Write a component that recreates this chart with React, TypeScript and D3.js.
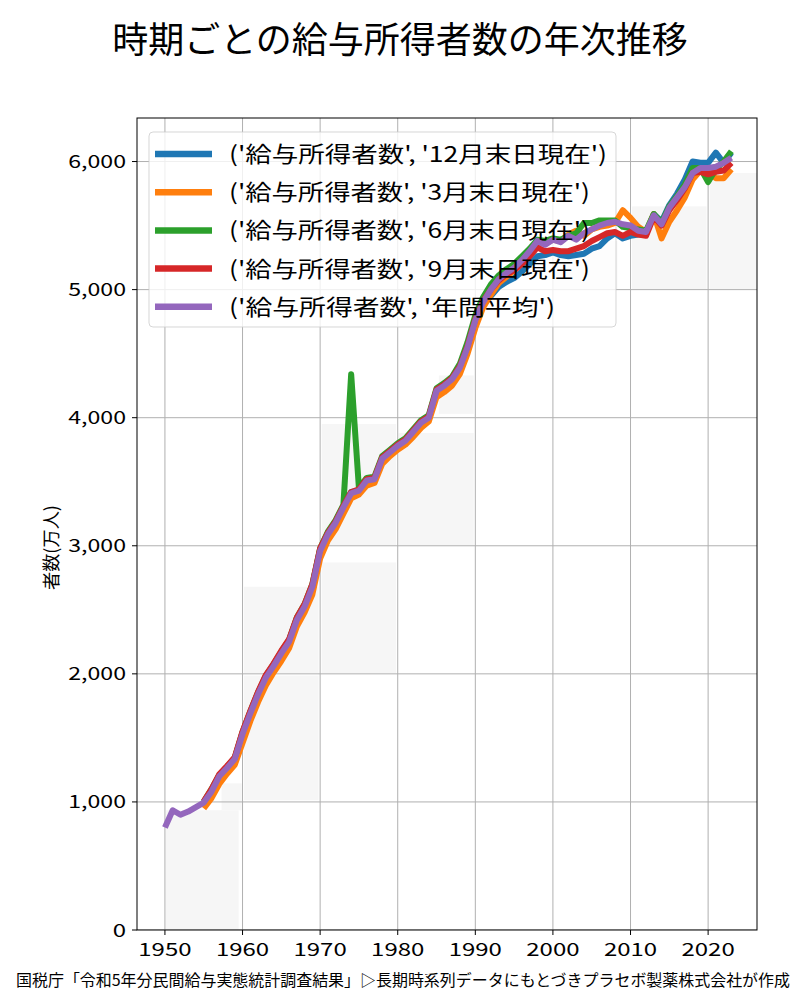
import {useMemo} from 'react'
import * as d3 from 'd3'

const WIDTH = 800
const HEIGHT = 1000
const PLOT = {left: 137, right: 757, top: 118, bottom: 930}
const FONT = '"Noto Sans CJK JP", "Noto Sans", sans-serif'

// 年間平均 1950-2023
const avgYears = d3.range(1950, 2024)
const avgValues = [
  800, 935, 900, 925, 960, 995, 1080, 1200, 1265, 1335,
  1530, 1690, 1840, 1970, 2060, 2160, 2250, 2420, 2525, 2680,
  2960, 3090, 3180, 3300, 3410, 3430, 3510, 3520, 3680, 3730,
  3780, 3820, 3890, 3960, 4000, 4210, 4250, 4300, 4390, 4550,
  4760, 4900, 5000, 5080, 5130, 5170, 5230, 5300, 5380, 5350,
  5390, 5370, 5420, 5390, 5440, 5470, 5500, 5520, 5530, 5510,
  5500, 5460, 5450, 5580, 5510, 5640, 5720, 5800, 5910, 5950,
  5950, 5960, 5990, 6030,
]

// 各月末現在 1955-2023
const pointYears = d3.range(1955, 2024)
const decValues = [
  1000, 1090, 1205, 1270, 1340,
  1540, 1700, 1850, 1980, 2070, 2170, 2260, 2430, 2535, 2690,
  2970, 3100, 3190, 3310, 3420, 3430, 3510, 3520, 3680, 3730,
  3780, 3820, 3890, 3960, 4000, 4210, 4250, 4300, 4390, 4550,
  4750, 4880, 4950, 5020, 5060, 5090, 5140, 5200, 5260, 5270,
  5290, 5270, 5260, 5270, 5280, 5320, 5340, 5400, 5440, 5400,
  5420, 5430, 5430, 5590, 5530, 5660, 5750, 5860, 6000, 5990,
  5990, 6070, 5990, 6070,
]
const marValues = [
  950, 1030, 1140, 1220, 1290,
  1460, 1630, 1780, 1910, 2010, 2100, 2200, 2370, 2480, 2620,
  2900, 3040, 3130, 3250, 3370, 3400, 3470, 3490, 3640, 3700,
  3750, 3790, 3850, 3920, 3970, 4160, 4200, 4250, 4340, 4500,
  4700, 4860, 4960, 5050, 5100, 5150, 5210, 5280, 5370, 5360,
  5390, 5380, 5430, 5460, 5420, 5470, 5490, 5500, 5520, 5620,
  5560, 5490, 5450, 5590, 5400, 5530, 5620, 5720, 5860, 5930,
  5920, 5870, 5870, 5940,
]
const junValues = [
  1000, 1100, 1210, 1275, 1345,
  1545, 1705, 1855, 1985, 2075, 2175, 2265, 2440, 2545, 2700,
  2980, 3110, 3200, 3320, 4340, 3450, 3530, 3540, 3700, 3750,
  3800, 3840, 3910, 3980, 4020, 4230, 4270, 4320, 4420, 4590,
  4800, 4940, 5040, 5110, 5160, 5200, 5260, 5320, 5390, 5380,
  5400, 5390, 5420, 5440, 5520, 5520, 5540, 5540, 5540, 5490,
  5480, 5470, 5460, 5590, 5520, 5650, 5730, 5820, 5950, 5950,
  5840, 5940, 6000, 6080,
]
const sepValues = [
  1005, 1100, 1215, 1280, 1350,
  1550, 1710, 1860, 1990, 2080, 2180, 2270, 2440, 2545, 2700,
  2980, 3100, 3190, 3310, 3420, 3440, 3520, 3530, 3690, 3740,
  3790, 3830, 3900, 3970, 4010, 4220, 4260, 4310, 4400, 4560,
  4770, 4910, 5000, 5070, 5120, 5150, 5200, 5260, 5330, 5300,
  5310, 5300, 5300, 5320, 5340, 5380, 5410, 5440, 5450, 5420,
  5450, 5430, 5420, 5570, 5500, 5620, 5700, 5790, 5910, 5920,
  5900, 5920, 5930, 5990,
]

const seriesLabels = [
  "('給与所得者数', '12月末日現在')",
  "('給与所得者数', '3月末日現在')",
  "('給与所得者数', '6月末日現在')",
  "('給与所得者数', '9月末日現在')",
  "('給与所得者数', '年間平均')",
]
const seriesColors = ['#1f77b4', '#ff7f0e', '#2ca02c', '#d62728', '#9467bd']
// 凡例テキストの幅(元の図のフォントは横に広い)
const labelWidths = [378, 361, 361, 361, 326]

const yTicks = [0, 1000, 2000, 3000, 4000, 5000, 6000]
const xTicks = [1950, 1960, 1970, 1980, 1990, 2000, 2010, 2020]

// 背景のうすい帯 [x0, x1, y0, y1]
const bgBands: [number, number, number, number][] = [
  [1950.1, 1959.5, 0, 935],
  [1957.3, 1959.9, 935, 1145],
  [1960.2, 1969.8, 1013, 1987],
  [1960.2, 1969.8, 2003, 2680],
  [1970.2, 1979.8, 2003, 2870],
  [1970.2, 1979.8, 3003, 3950],
  [1980.1, 1989.8, 3003, 3880],
  [1985.3, 1989.8, 4030, 4330],
  [2000.1, 2008.3, 5003, 5380],
  [2010.2, 2019.8, 5003, 5650],
  [2020.2, 2026.3, 5003, 5910],
]

const TITLE = '時期ごとの給与所得者数の年次推移'
const FOOTER =
  '国税庁「令和5年分民間給与実態統計調査結果」▷長期時系列データにもとづきプラセボ製薬株式会社が作成'

// 数字の幅(横長フォントに合わせる)
const numWidth = (s: string) =>
  s.replace(/[^0-9]/g, '').length * 13.3 + s.replace(/[0-9]/g, '').length * 4.5

export default function App() {
  const xScale = useMemo(
    () => d3.scaleLinear().domain([1946.4, 2026.3]).range([PLOT.left, PLOT.right]),
    []
  )
  const yScale = useMemo(
    () => d3.scaleLinear().domain([0, 6340]).range([PLOT.bottom, PLOT.top]),
    []
  )

  const series = [
    {years: pointYears, values: decValues},
    {years: pointYears, values: marValues},
    {years: pointYears, values: junValues},
    {years: pointYears, values: sepValues},
    {years: avgYears, values: avgValues},
  ]

  const lineGen = d3
    .line<[number, number]>()
    .x(d => xScale(d[0]))
    .y(d => yScale(d[1]))

  const fmt = d3.format(',')

  return (
    <svg
      width={WIDTH}
      height={HEIGHT}
      style={{position: 'absolute', left: 0, top: 0, background: '#fff'}}
      fontFamily={FONT}>
      <text x={400} y={53} textAnchor="middle" fontSize={36}>
        {TITLE}
      </text>

      <defs>
        <clipPath id="plot-clip">
          <rect
            x={PLOT.left}
            y={PLOT.top}
            width={PLOT.right - PLOT.left}
            height={PLOT.bottom - PLOT.top}
          />
        </clipPath>
      </defs>

      <g clipPath="url(#plot-clip)">
        {bgBands.map((b, i) => (
          <rect
            key={i}
            x={xScale(b[0])}
            y={yScale(b[3])}
            width={xScale(b[1]) - xScale(b[0])}
            height={yScale(b[2]) - yScale(b[3])}
            fill="#f6f6f6"
          />
        ))}
        {xTicks.map(t => (
          <line
            key={t}
            x1={xScale(t)}
            x2={xScale(t)}
            y1={PLOT.top}
            y2={PLOT.bottom}
            stroke="#b0b0b0"
            strokeWidth={1}
          />
        ))}
        {yTicks.map(t => (
          <line
            key={t}
            x1={PLOT.left}
            x2={PLOT.right}
            y1={yScale(t)}
            y2={yScale(t)}
            stroke="#b0b0b0"
            strokeWidth={1}
          />
        ))}

        {/* 凡例の枠(線の下) */}
        <rect
          x={149}
          y={132}
          width={467}
          height={195}
          rx={4}
          fill="#fff"
          fillOpacity={0.8}
          stroke="#cccccc"
          strokeOpacity={0.8}
        />

        {series.map((s, i) => (
          <path
            key={i}
            d={lineGen(s.years.map((y, j) => [y, s.values[j]] as [number, number])) || ''}
            fill="none"
            stroke={seriesColors[i]}
            strokeWidth={6}
            strokeLinejoin="round"
            strokeLinecap="butt"
          />
        ))}
      </g>

      <rect
        x={PLOT.left}
        y={PLOT.top}
        width={PLOT.right - PLOT.left}
        height={PLOT.bottom - PLOT.top}
        fill="none"
        stroke="#000"
        strokeWidth={1}
      />

      {yTicks.map(t => (
        <g key={t}>
          <line x1={PLOT.left - 5} x2={PLOT.left} y1={yScale(t)} y2={yScale(t)} stroke="#000" />
          <text
            x={PLOT.left - 11}
            y={yScale(t) + 6.5}
            textAnchor="end"
            fontSize={18}
            textLength={numWidth(fmt(t))}
            lengthAdjust="spacingAndGlyphs">
            {fmt(t)}
          </text>
        </g>
      ))}
      {xTicks.map(t => (
        <g key={t}>
          <line x1={xScale(t)} x2={xScale(t)} y1={PLOT.bottom} y2={PLOT.bottom + 5} stroke="#000" />
          <text
            x={xScale(t) - numWidth(String(t)) / 2}
            y={956}
            fontSize={18}
            textLength={numWidth(String(t))}
            lengthAdjust="spacingAndGlyphs">
            {t}
          </text>
        </g>
      ))}
      <text
        transform={`translate(58,548) rotate(-90)`}
        x={-42}
        fontSize={18}
        textLength={85}
        lengthAdjust="spacingAndGlyphs">
        者数(万人)
      </text>

      {seriesLabels.map((label, i) => {
        const cy = 154 + i * 38.2
        return (
          <g key={label}>
            <line x1={155} x2={212} y1={cy} y2={cy} stroke={seriesColors[i]} strokeWidth={6.5} />
            <text
              x={229}
              y={cy + 8}
              fontSize={22}
              textLength={labelWidths[i]}
              lengthAdjust="spacingAndGlyphs">
              {label}
            </text>
          </g>
        )
      })}

      <text x={16} y={986} fontSize={16} textLength={774} lengthAdjust="spacingAndGlyphs">
        {FOOTER}
      </text>
    </svg>
  )
}
